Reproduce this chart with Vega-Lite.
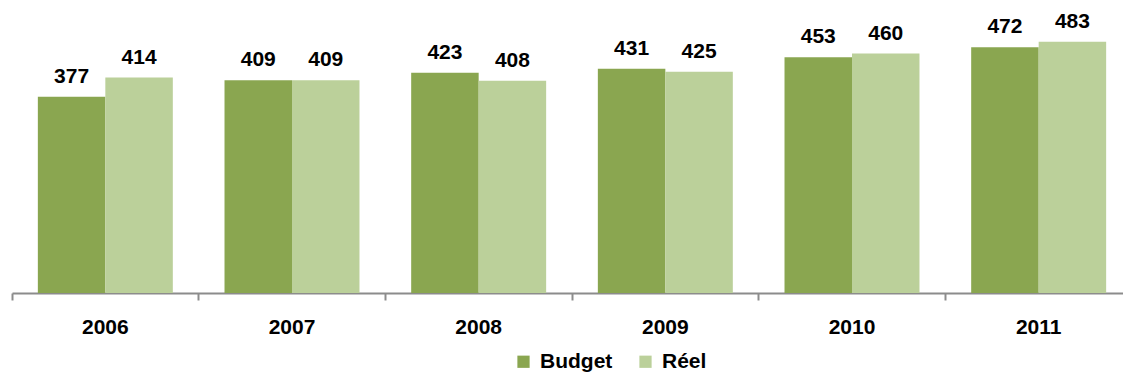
{
  "$schema": "https://vega.github.io/schema/vega-lite/v6.json",
  "autosize": {"type": "none"},
  "width": 1120,
  "height": 293,
  "padding": {"left": 12, "top": 0, "right": 0, "bottom": 82},
  "background": "white",
  "config": {"view": {"stroke": null}, "font": "Liberation Sans"},
  "data": {"values": [
    {"year": "2006", "serie": "Budget", "value": 377},
    {"year": "2006", "serie": "Réel", "value": 414},
    {"year": "2007", "serie": "Budget", "value": 409},
    {"year": "2007", "serie": "Réel", "value": 409},
    {"year": "2008", "serie": "Budget", "value": 423},
    {"year": "2008", "serie": "Réel", "value": 408},
    {"year": "2009", "serie": "Budget", "value": 431},
    {"year": "2009", "serie": "Réel", "value": 425},
    {"year": "2010", "serie": "Budget", "value": 453},
    {"year": "2010", "serie": "Réel", "value": 460},
    {"year": "2011", "serie": "Budget", "value": 472},
    {"year": "2011", "serie": "Réel", "value": 483}
  ]},
  "encoding": {
    "x": {"field": "year", "type": "nominal",
      "scale": {"paddingInner": 0, "paddingOuter": 0},
      "axis": {"title": null, "labelAngle": 0, "bandPosition": 0, "labelFontSize": 21, "labelFontWeight": "bold", "labelColor": "black", "labelPadding": 16, "domainColor": "#8c8c8c", "domainWidth": 2, "tickColor": "#8c8c8c", "tickWidth": 2, "tickSize": 7, "labelFlush": false, "labelBound": false}},
    "xOffset": {"field": "serie", "type": "nominal", "sort": ["Budget", "Réel"], "scale": {"paddingInner": 0, "paddingOuter": 0.383}},
    "y": {"field": "value", "type": "quantitative", "scale": {"domain": [0, 563]}, "axis": null}
  },
  "layer": [
    {"mark": {"type": "bar"},
     "encoding": {
       "color": {"field": "serie", "type": "nominal", "sort": ["Budget", "Réel"],
         "scale": {"domain": ["Budget", "Réel"], "range": ["#8aa650", "#bbd09a"]},
         "legend": {"title": null, "orient": "none", "direction": "horizontal", "legendX": 501, "legendY": 351, "symbolType": "square", "symbolSize": 150, "symbolOpacity": 1, "labelFontSize": 21, "labelFontWeight": "bold", "labelColor": "black", "columnPadding": 22, "labelOffset": 6, "symbolStrokeWidth": 0}
       }}},
    {"mark": {"type": "text", "baseline": "alphabetic", "dy": -14, "fontSize": 21, "fontWeight": "bold", "color": "black"},
     "encoding": {"text": {"field": "value", "type": "quantitative"}}}
  ]
}
